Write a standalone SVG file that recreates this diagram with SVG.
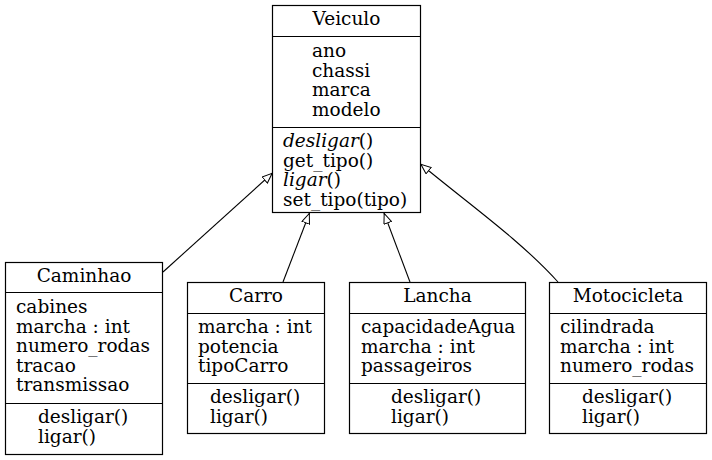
<svg xmlns="http://www.w3.org/2000/svg" width="712" height="460" viewBox="0 0 712 460">
<defs>
<marker id="inh" viewBox="0 0 11 9" refX="11" refY="4.5" markerWidth="11" markerHeight="9" markerUnits="userSpaceOnUse" orient="auto">
<path d="M0.5,0.5 L10.5,4.5 L0.5,8.5 Z" fill="#fff" stroke="#000" stroke-width="1"/>
</marker>
<style>
rect,line{fill:#fff;stroke:#000;stroke-width:1.2}
text{font-family:"DejaVu Serif","Liberation Serif",serif;font-size:18.5px;fill:#000}
.t{text-anchor:middle}
.e{fill:none;stroke:#000;stroke-width:1.1;marker-end:url(#inh)}
</style>
</defs>
<g id="Veiculo">
<rect x="272.5" y="5.5" width="148" height="207"/>
<line x1="272.5" y1="36.5" x2="420.5" y2="36.5"/>
<line x1="272.5" y1="127.5" x2="420.5" y2="127.5"/>
<text class="t" x="346.5" y="25">Veiculo</text>
<text x="312" y="57">ano</text>
<text x="312" y="76.5">chassi</text>
<text x="312" y="96">marca</text>
<text x="312" y="115.5">modelo</text>
<text x="283" y="147"><tspan font-style="italic">desligar</tspan>()</text>
<text x="283" y="166.5">get_tipo()</text>
<text x="283" y="186"><tspan font-style="italic">ligar</tspan>()</text>
<text x="283" y="205.5">set_tipo(tipo)</text>
</g>
<g id="Caminhao">
<rect x="5.5" y="262.5" width="157" height="192"/>
<line x1="5.5" y1="292.5" x2="162.5" y2="292.5"/>
<line x1="5.5" y1="403.5" x2="162.5" y2="403.5"/>
<text class="t" x="84" y="282">Caminhao</text>
<text x="16" y="313">cabines</text>
<text x="16" y="332.5">marcha : int</text>
<text x="16" y="352">numero_rodas</text>
<text x="16" y="371.5">tracao</text>
<text x="16" y="391">transmissao</text>
<text x="38" y="423">desligar()</text>
<text x="38" y="442.5">ligar()</text>
</g>
<g id="Carro">
<rect x="187.5" y="282.5" width="137" height="151"/>
<line x1="187.5" y1="313.5" x2="324.5" y2="313.5"/>
<line x1="187.5" y1="383.5" x2="324.5" y2="383.5"/>
<text class="t" x="256" y="302">Carro</text>
<text x="198" y="333">marcha : int</text>
<text x="198" y="352.5">potencia</text>
<text x="198" y="372">tipoCarro</text>
<text x="210" y="403">desligar()</text>
<text x="210" y="422.5">ligar()</text>
</g>
<g id="Lancha">
<rect x="349.5" y="282.5" width="176" height="151"/>
<line x1="349.5" y1="313.5" x2="525.5" y2="313.5"/>
<line x1="349.5" y1="383.5" x2="525.5" y2="383.5"/>
<text class="t" x="437.5" y="302">Lancha</text>
<text x="361" y="333">capacidadeAgua</text>
<text x="361" y="352.5">marcha : int</text>
<text x="361" y="372">passageiros</text>
<text x="391" y="403">desligar()</text>
<text x="391" y="422.5">ligar()</text>
</g>
<g id="Motocicleta">
<rect x="549.5" y="282.5" width="157" height="151"/>
<line x1="549.5" y1="313.5" x2="706.5" y2="313.5"/>
<line x1="549.5" y1="383.5" x2="706.5" y2="383.5"/>
<text class="t" x="628" y="302">Motocicleta</text>
<text x="560" y="333">cilindrada</text>
<text x="560" y="352.5">marcha : int</text>
<text x="560" y="372">numero_rodas</text>
<text x="582" y="403">desligar()</text>
<text x="582" y="422.5">ligar()</text>
</g>
<g id="edges">
<path class="e" d="M163,272 L272.5,173"/>
<path class="e" d="M283,282 L309.5,213"/>
<path class="e" d="M410,282 L384,213"/>
<path class="e" d="M558,282 C520,240 470,205 420.5,164"/>
</g>
</svg>
